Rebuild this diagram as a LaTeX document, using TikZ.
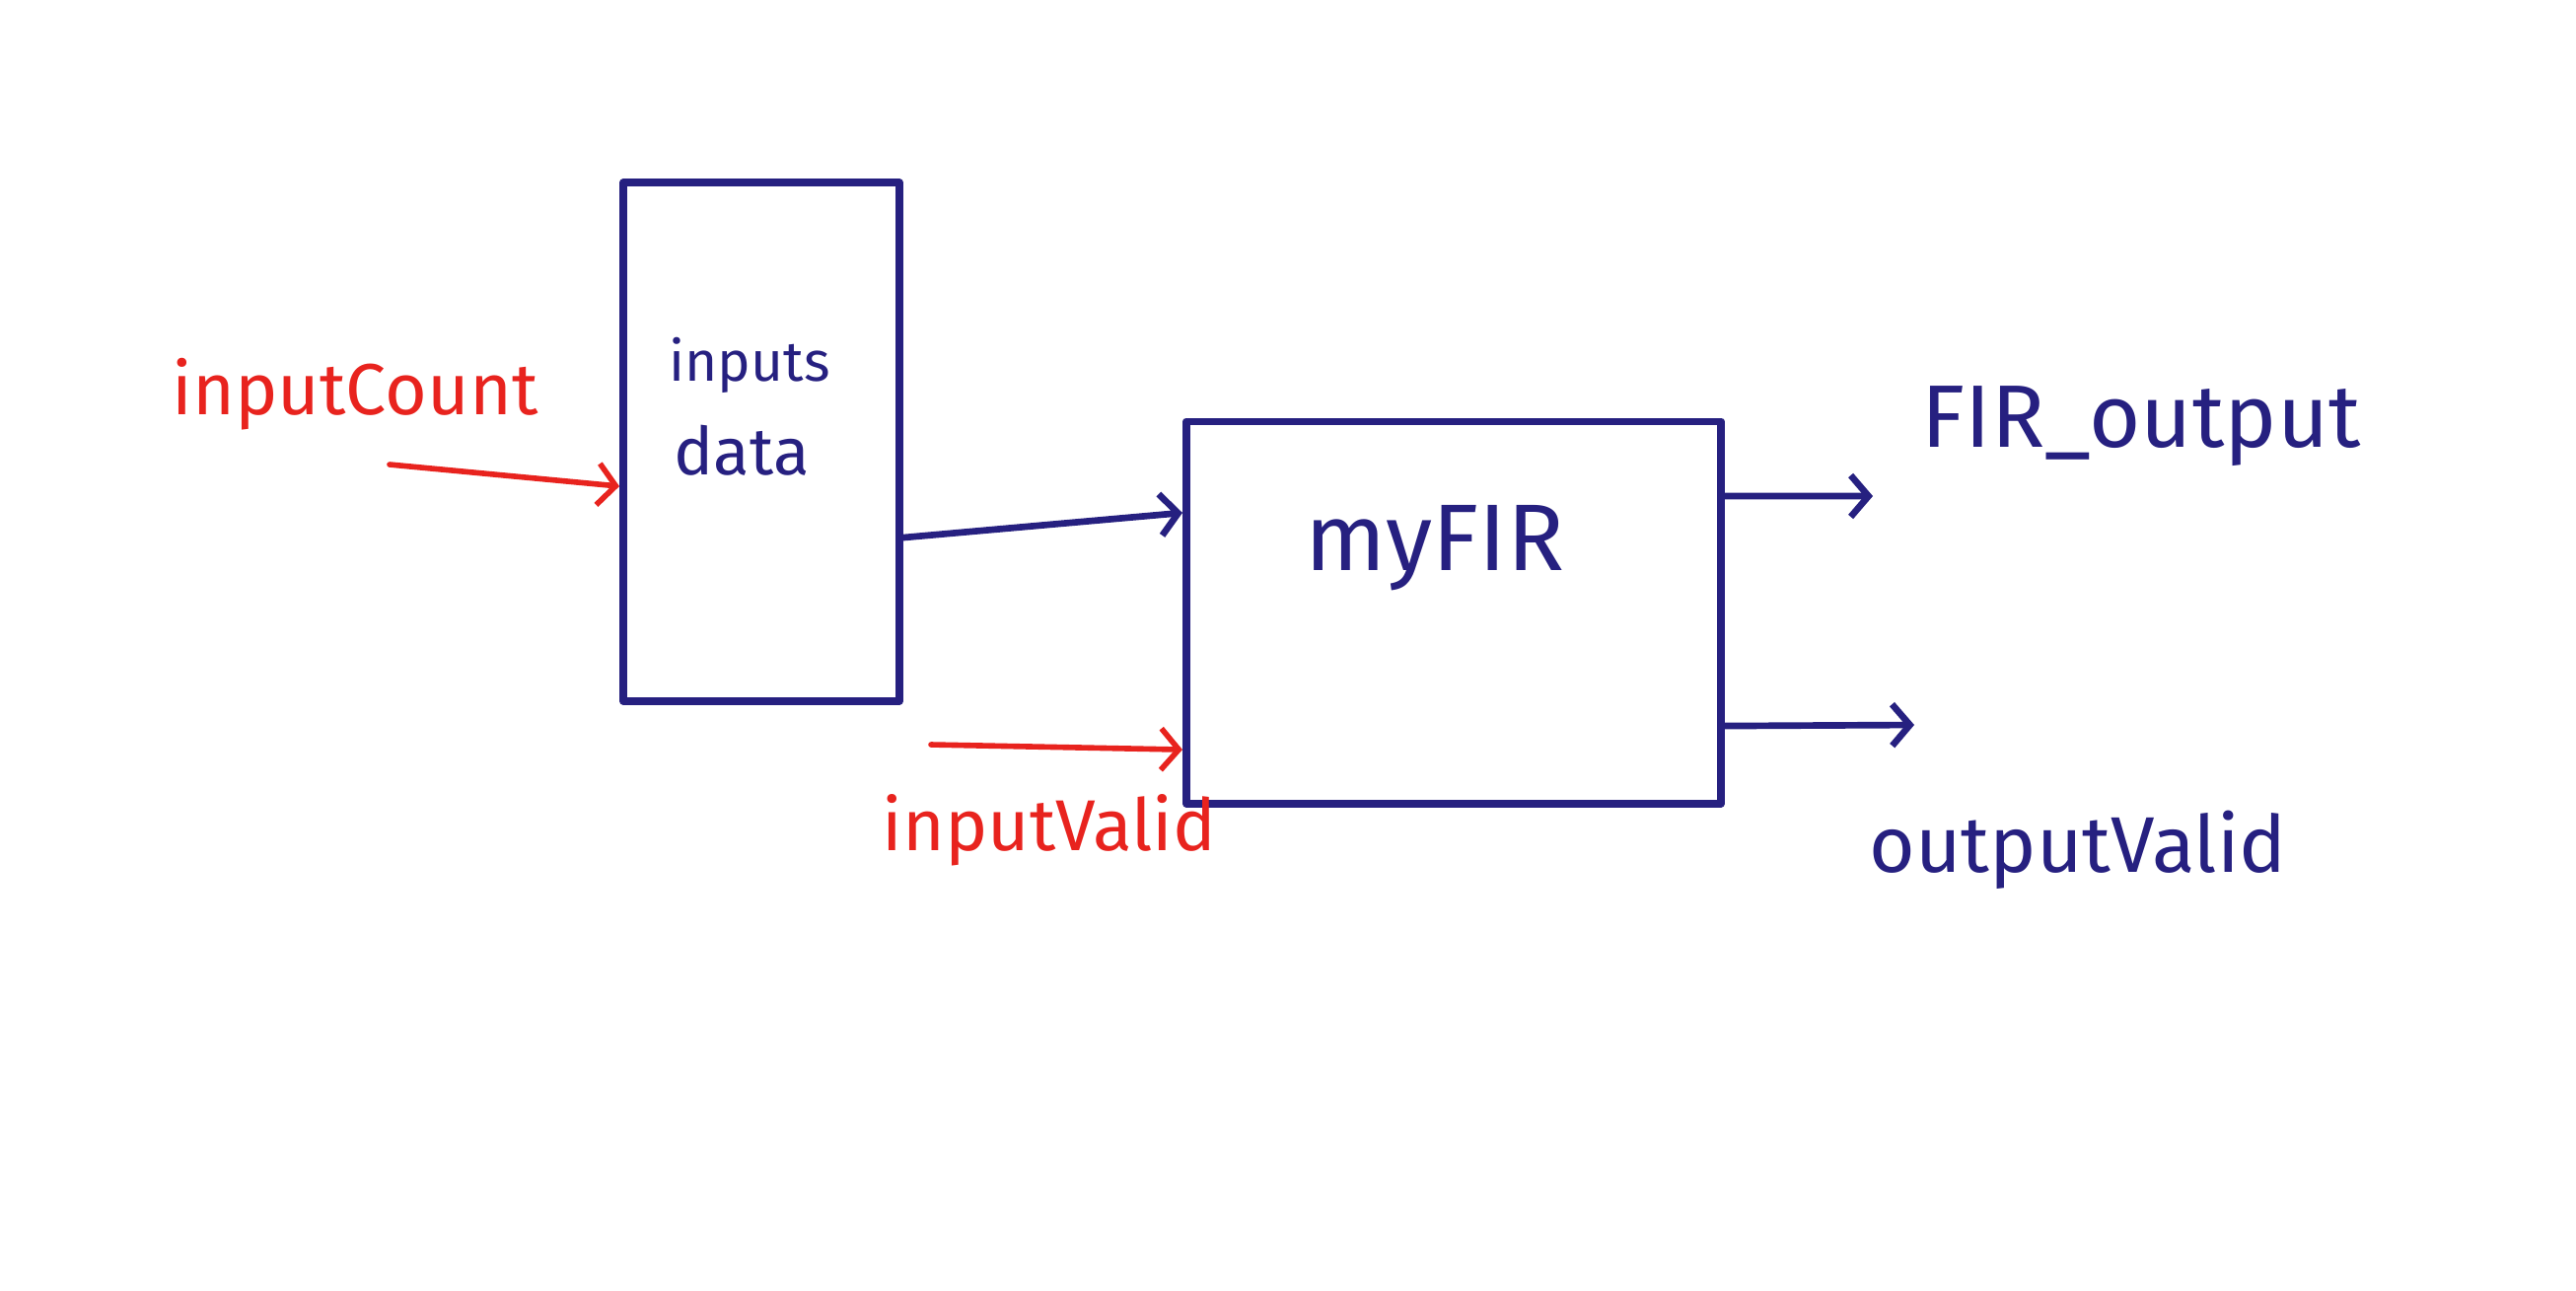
\documentclass[tikz,border=0pt]{standalone}
\usepackage{fontspec}
\setmainfont{Fira Sans}
\usepackage{graphicx}
\usetikzlibrary{arrows.meta}
\definecolor{ink}{RGB}{38,32,128}
\definecolor{redink}{RGB}{232,35,30}
\newcommand\fitw[2]{\resizebox{#1}{!}{#2}}
\begin{document}
\begin{tikzpicture}[x=0.01cm,y=-0.01cm,line cap=round,line join=round,
  blk/.style={draw=ink,line width=2.2pt,inner sep=0pt,fill=none},
  lbl/.style={inner sep=0pt,text=ink},
  rlbl/.style={inner sep=0pt,text=redink},
  sig/.style={draw=ink,line width=1.9pt,-{Straight Barb[length=0.18cm,width=0.42cm]}},
  rsig/.style={draw=redink,line width=1.6pt,-{Straight Barb[length=0.18cm,width=0.42cm]}}]
\fill[white] (0,0) rectangle (2612,1308);
\useasboundingbox (0,0) rectangle (2612,1308);
% blocks
\node[blk,minimum width=2.8cm,minimum height=5.25cm] (mem) at (772,448) {};
\node[blk,minimum width=5.42cm,minimum height=3.87cm] (fir) at (1474,621) {};
% block texts
\node[lbl] (memA) at (760,370) {\fitw{1.63cm}{inputs}};
\node[lbl] (memB) at (752,457) {\fitw{1.37cm}{data}};
\node[lbl] (firT) at (1455,556) {\fitw{2.62cm}{myFIR}};
% signal labels
\node[rlbl] (icL) at (360,400) {\fitw{3.71cm}{inputCount}};
\node[rlbl] (ivL) at (1064,842) {\fitw{3.38cm}{inputValid}};
\node[lbl] (foL) at (2171,432) {\fitw{4.45cm}{FIR\_output}};
\node[lbl] (ovL) at (2107,862) {\fitw{4.23cm}{outputValid}};
% free ends
\coordinate (icS) at (395,471);
\coordinate (ivS) at (944,755);
\coordinate (foE) at (1899,503);
\coordinate (ovE) at (1941,735);
% connectors
\draw[rsig] (icS) -- ([yshift=-0.45cm]mem.west);
\draw[sig] ([yshift=-0.97cm]mem.east) -- ([yshift=1.01cm]fir.west);
\draw[rsig] (ivS) -- ([yshift=-1.39cm]fir.west);
\draw[sig] ([yshift=1.18cm]fir.east) -- (foE);
\draw[sig] ([yshift=-1.15cm]fir.east) -- (ovE);
\end{tikzpicture}
\end{document}
